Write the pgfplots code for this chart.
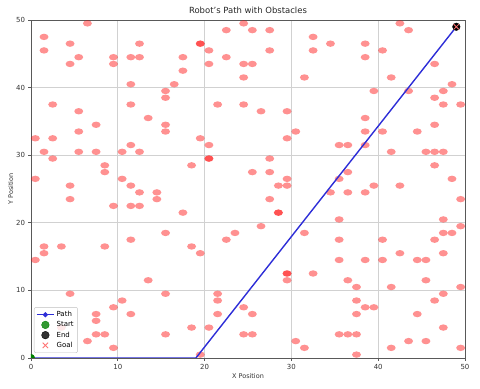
\documentclass[border=0pt]{standalone}
\usepackage{fontspec}
\setmainfont{DejaVu Sans}
\usepackage{pgfplots}
\pgfplotsset{compat=1.18}
\definecolor{pathblue}{RGB}{45,45,215}
\definecolor{startgreen}{RGB}{0,128,0}
\begin{document}
\begin{tikzpicture}
\begin{axis}[
  width=434bp, height=338bp, scale only axis,
  xmin=0, xmax=50, ymin=0, ymax=50,
  xtick={0,10,...,50}, ytick={0,10,...,50},
  grid=major, grid style={black!18, line width=0.6bp},
  axis line style={black!65, line width=0.6bp},
  tick style={black!65, line width=0.6bp},
  tick align=outside, major tick length=2.5bp, tick pos=left,
  tick label style={font=\fontsize{7}{8}\selectfont, text=black!80},
  /pgf/number format/assume math mode=true,
  title={Robot's Path with Obstacles},
  title style={font=\fontsize{8.5}{10}\selectfont, text=black!85, yshift=-3bp},
  xlabel={X Position}, ylabel={Y Position},
  label style={font=\fontsize{6.5}{8}\selectfont, text=black!80},
  xlabel style={yshift=3bp},
  ylabel style={yshift=-4bp},
  clip marker paths=true,
  legend cell align=left,
  legend style={at={(rel axis cs:0,0)}, anchor=south west, xshift=3bp, yshift=5bp,
    draw=black!25, rounded corners=2bp, fill=white, fill opacity=0.8, text opacity=1,
    font=\fontsize{7}{8}\selectfont, inner sep=2bp, row sep=-0.5bp},
]
\addplot[only marks, mark=*, mark size=3.2bp, color=red, draw opacity=0, fill opacity=0.43,
  mark options={color=red, draw opacity=0, fill opacity=0.43, xscale=1.4}, forget plot]
  table {
x y
6.5 49.5
1.5 47.5
1.5 45.5
4.5 46.5
5.5 44.5
4.5 43.5
9.5 44.5
9.5 43.5
11.5 44.5
12.5 44.5
12.5 46.5
11.5 40.5
11.5 37.5
17.5 44.5
17.5 42.5
16.5 40.5
15.5 39.5
15.5 38.5
13.5 35.5
15.5 34.5
15.5 33.5
19.5 46.5
19.5 46.5
20.5 45.5
20.5 43.5
22.5 48.5
22.5 44.5
24.5 49.5
24.5 43.5
24.5 41.5
24.5 37.5
21.5 37.5
2.5 37.5
5.5 36.5
7.5 34.5
5.5 33.5
0.5 32.5
2.5 32.5
1.5 30.5
2.5 29.5
5.5 30.5
7.5 30.5
8.5 28.5
8.5 27.5
10.5 30.5
11.5 31.5
12.5 30.5
19.5 32.5
20.5 31.5
20.5 29.5
20.5 29.5
18.5 28.5
0.5 26.5
4.5 25.5
4.5 23.5
10.5 26.5
11.5 25.5
12.5 24.5
14.5 24.5
14.5 23.5
25.5 48.5
27.5 48.5
27.5 45.5
25.5 43.5
26.5 36.5
29.5 36.5
29.5 32.5
30.5 33.5
32.5 47.5
32.5 45.5
34.5 46.5
38.5 46.5
38.5 44.5
40.5 45.5
31.5 41.5
41.5 41.5
42.5 49.5
43.5 48.5
46.5 43.5
39.5 39.5
43.5 39.5
46.5 38.5
47.5 39.5
48.5 40.5
47.5 37.5
49.5 37.5
38.5 35.5
38.5 33.5
40.5 33.5
44.5 33.5
46.5 34.5
35.5 31.5
36.5 31.5
38.5 31.5
41.5 30.5
45.5 30.5
46.5 30.5
47.5 30.5
27.5 29.5
25.5 27.5
27.5 27.5
28.5 25.5
29.5 25.5
29.5 26.5
27.5 23.5
36.5 27.5
35.5 26.5
34.5 24.5
36.5 24.5
38.5 24.5
39.5 25.5
42.5 25.5
46.5 28.5
48.5 26.5
49.5 23.5
9.5 22.5
11.5 22.5
12.5 22.5
17.5 21.5
15.5 18.5
11.5 17.5
8.5 16.5
3.5 16.5
1.5 16.5
1.5 15.5
0.5 14.5
18.5 16.5
19.5 15.5
22.5 17.5
23.5 18.5
13.5 11.5
4.5 9.5
15.5 9.5
21.5 9.5
21.5 8.5
10.5 8.5
9.5 7.5
7.5 6.5
7.5 5.5
11.5 6.5
21.5 6.5
24.5 7.5
25.5 6.5
7.5 3.5
8.5 3.5
15.5 3.5
18.5 4.5
20.5 4.5
24.5 3.5
6.5 2.5
9.5 1.5
19.5 0.5
3.5 4.5
28.5 21.5
28.5 21.5
47.5 20.5
49.5 19.5
47.5 18.5
48.5 18.5
46.5 17.5
47.5 15.5
40.5 17.5
42.5 15.5
40.5 14.5
44.5 14.5
45.5 14.5
45.5 11.5
41.5 10.5
49.5 10.5
47.5 9.5
46.5 8.5
44.5 6.5
47.5 4.5
43.5 2.5
45.5 2.5
41.5 1.5
49.5 1.5
35.5 20.5
35.5 17.5
31.5 18.5
26.5 19.5
35.5 14.5
38.5 14.5
29.5 12.5
29.5 12.5
29.5 11.5
32.5 12.5
36.5 11.5
37.5 10.5
37.5 8.5
38.5 7.5
39.5 7.5
37.5 6.5
25.5 3.5
35.5 3.5
36.5 3.5
37.5 3.5
30.5 2.5
31.5 1.5
37.5 0.5
};
\addplot[pathblue, line width=1.4bp, forget plot] coordinates {(0,0) (19,0) (49,49)};
\addlegendimage{pathblue, line width=1.4bp, mark=*, mark size=1.8bp}
\addlegendentry{Path}
\addplot[only marks, mark=*, mark size=3.8bp, color=startgreen, mark options={color=startgreen}] coordinates {(0,0)};
\addlegendentry{Start}
\addplot[only marks, mark=*, mark size=3.8bp, color=black, mark options={color=black}] coordinates {(49,49)};
\addlegendentry{End}
\addplot[only marks, mark=x, mark size=3.8bp, color=red!55, mark options={color=red!55, line width=0.8bp}] coordinates {(49,49)};
\addlegendentry{Goal}
\end{axis}
\pgfresetboundingbox
\useasboundingbox (-31bp,-31bp) rectangle (449bp,358bp);
\end{tikzpicture}
\end{document}
